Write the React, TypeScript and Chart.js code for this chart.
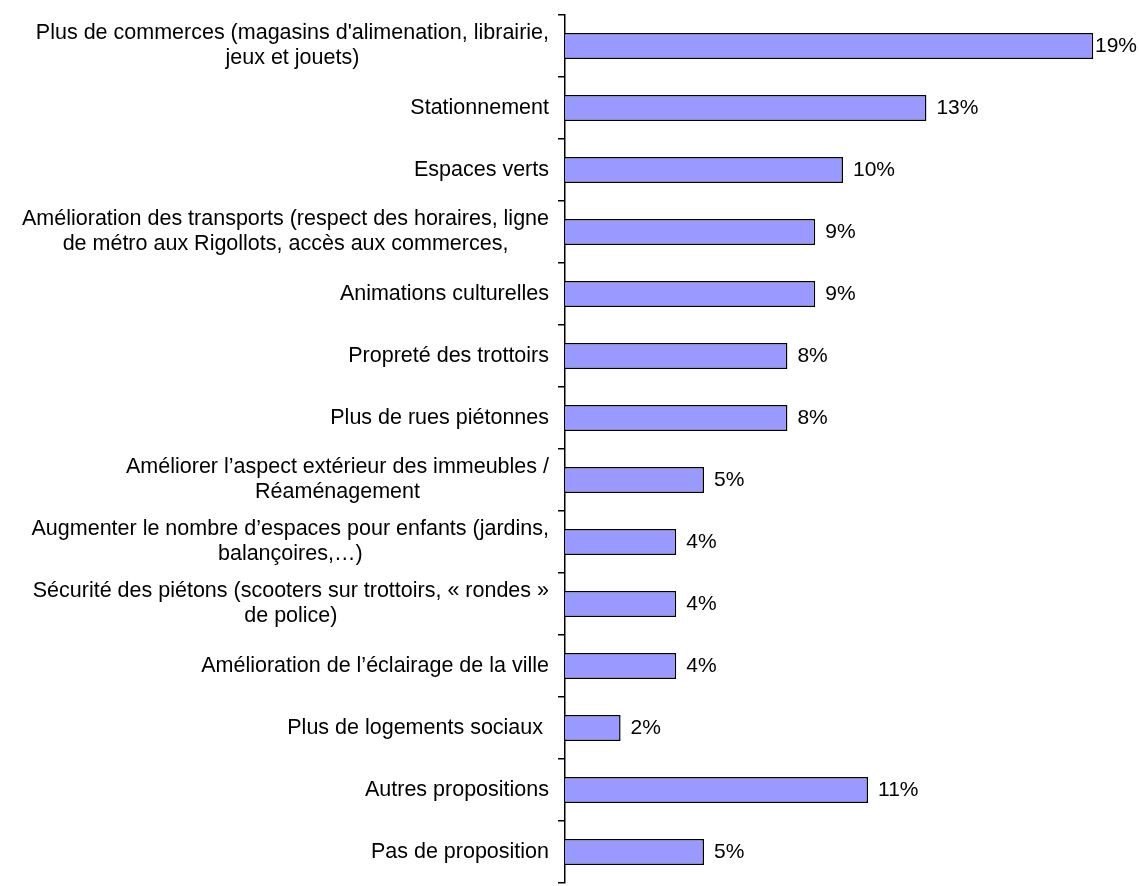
import React, { useEffect, useRef } from 'react';
import { Chart, registerables } from 'chart.js';

Chart.register(...registerables);

const categories: string[][] = [
  ["Plus de commerces (magasins d'alimenation, librairie,", "jeux et jouets)"],
  ["Stationnement"],
  ["Espaces verts"],
  ["Amélioration des transports (respect des horaires, ligne", "de métro aux Rigollots, accès aux commerces,"],
  ["Animations culturelles"],
  ["Propreté des trottoirs"],
  ["Plus de rues piétonnes"],
  ["Améliorer l’aspect extérieur des immeubles /", "Réaménagement"],
  ["Augmenter le nombre d’espaces pour enfants (jardins,", "balançoires,…)"],
  ["Sécurité des piétons (scooters sur trottoirs, « rondes »", "de police)"],
  ["Amélioration de l’éclairage de la ville"],
  ["Plus de logements sociaux "],
  ["Autres propositions"],
  ["Pas de proposition"],
];

const values: number[] = [19, 13, 10, 9, 9, 8, 8, 5, 4, 4, 4, 2, 10.9, 5];
const valueLabels: string[] = ['19%', '13%', '10%', '9%', '9%', '8%', '8%', '5%', '4%', '4%', '4%', '2%', '11%', '5%'];

const FONT = '21.5px "Liberation Sans", Arial, sans-serif';
const VALUE_FONT = '21px "Liberation Sans", Arial, sans-serif';

const labelPlugin = {
  id: 'customLabels',
  afterDraw(chart: any) {
    const ctx = chart.ctx as CanvasRenderingContext2D;
    const yScale = chart.scales.y;
    ctx.save();
    ctx.font = FONT;
    ctx.fillStyle = '#000';
    ctx.textBaseline = 'middle';
    ctx.textAlign = 'center';
    const lh = 25;
    const rightEdge = yScale.right - 16;
    categories.forEach((lines, i) => {
      const y = yScale.getPixelForValue(i);
      const maxW = Math.max(...lines.map((l) => ctx.measureText(l).width));
      const cx = rightEdge - maxW / 2;
      const y0 = y - ((lines.length - 1) * lh) / 2;
      lines.forEach((l, k) => ctx.fillText(l, cx, y0 + k * lh));
    });
    // value labels
    const meta = chart.getDatasetMeta(0);
    ctx.font = VALUE_FONT;
    ctx.textAlign = 'left';
    meta.data.forEach((bar: any, i: number) => {
      const txt = valueLabels[i];
      const w = ctx.measureText(txt).width;
      let x = bar.x + 10;
      if (x + w > chart.width - 2) x = chart.width - 2 - w;
      ctx.fillText(txt, x, bar.y);
    });
    ctx.restore();
  },
};

export default function App() {
  const ref = useRef<HTMLCanvasElement | null>(null);
  useEffect(() => {
    if (!ref.current) return;
    const chart = new Chart(ref.current, {
      type: 'bar',
      data: {
        labels: categories.map((c) => c.join(' ')),
        datasets: [
          {
            data: values,
            backgroundColor: '#9999FF',
            borderColor: '#000000',
            borderWidth: 1.5,
            barPercentage: 0.42,
            categoryPercentage: 1,
          },
        ],
      },
      options: {
        indexAxis: 'y',
        animation: false,
        responsive: true,
        maintainAspectRatio: false,
        layout: { padding: { top: 15, bottom: 3, left: 0, right: 18 } },
        plugins: { legend: { display: false }, tooltip: { enabled: false } },
        scales: {
          x: { display: false, min: 0, max: 20 },
          y: {
            type: 'category',
            offset: true,
            grid: {
              offset: true,
              drawOnChartArea: false,
              drawTicks: true,
              tickLength: 7,
              color: '#000',
              lineWidth: 1.5,
            },
            border: { display: true, color: '#000', width: 1.5 },
            ticks: { display: false },
            afterFit: (s: any) => {
              s.width = 565;
            },
          },
        },
      },
      plugins: [labelPlugin],
    });
    return () => chart.destroy();
  }, []);
  return (
    <div style={{ position: 'absolute', left: 0, top: 0, width: 1139, height: 886 }}>
      <canvas ref={ref} />
    </div>
  );
}
